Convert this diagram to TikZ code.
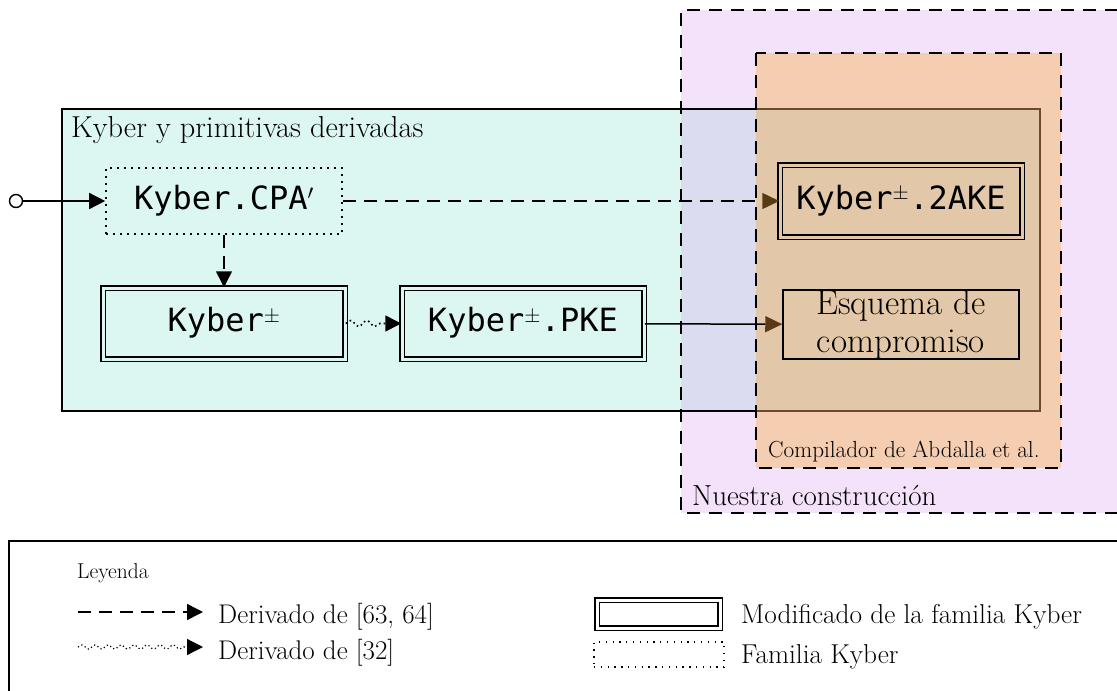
\documentclass[tikz,border=0pt]{standalone}
\usepackage{fontspec}
\newfontfamily\monof{DejaVu Sans Mono}
\usetikzlibrary{arrows.meta,decorations.pathmorphing}
\definecolor{cyanbg}{HTML}{DCF7F2}
\definecolor{purplebg}{HTML}{F4E1FA}
\definecolor{orangebg}{HTML}{F5CDB0}
\definecolor{lavbg}{HTML}{DCDCF0}
\definecolor{tanbg}{HTML}{E2C8A8}
\definecolor{brownline}{HTML}{6B4A2E}
\definecolor{tipbrown}{HTML}{5A3A12}
\begin{document}
\begin{tikzpicture}[x=1pt,y=-1pt,
  monotext/.style={font=\fontsize{32}{36}\selectfont\monof, text height=23pt, text depth=7pt},
  dotbox/.style={draw, line width=1.6pt, dash pattern=on 1.6pt off 5.4pt, inner sep=0pt},
  dblbox/.style={draw, line width=1.5pt, double distance=3pt, inner sep=0pt},
  plainbox/.style={draw, line width=1.5pt, inner sep=0pt},
  regionborder/.style={line width=2pt, dash pattern=on 13pt off 9pt},
  tipblack/.style={-{Triangle[length=16pt,width=16pt]}},
  tipbrownarrow/.style={-{Triangle[length=17pt,width=16pt,color=tipbrown]}},
  dasharrow/.style={line width=1.5pt, dash pattern=on 13pt off 8pt},
  wavyarrow/.style={line width=1.6pt, dash pattern=on 1.6pt off 3pt, decorate, decoration={snake, amplitude=3pt, segment length=16pt, post length=16pt}},
  lbl/.style={anchor=base west, inner sep=0pt},
]
\useasboundingbox (0,0) rectangle (1117,691);
\clip (0,0) rectangle (1117,691);

% region fills
\fill[purplebg] (681,10) rectangle (1140,513);
\fill[orangebg] (756,53) rectangle (1061,468);
\fill[cyanbg] (62,109) rectangle (681,411);
\fill[lavbg] (681,109) rectangle (756,411);
\fill[tanbg] (756,109) rectangle (1040,411);

% cyan region border
\draw[line width=1.5pt] (756,109) -- (62,109) -- (62,411) -- (756,411);
\draw[line width=1.5pt, brownline] (756,109) -- (1040,109) -- (1040,411) -- (756,411);

% dashed region borders
\draw[regionborder] (1140,10) -- (681,10) -- (681,513) -- (1140,513);
\draw[regionborder] (756,53) rectangle (1061,468);

% region labels
\node[lbl, font=\fontsize{30.3}{33}\selectfont] (lkyber) at (71,137) {Kyber y primitivas derivadas};
\node[lbl, font=\fontsize{29}{32}\selectfont] (lnuestra) at (692,505) {Nuestra construcción};
\node[lbl, font=\fontsize{23.2}{26}\selectfont] (lcomp) at (768,457) {Compilador de Abdalla et al.};

% nodes
\node[circle, draw, line width=1.4pt, fill=white, minimum size=13pt, inner sep=0pt] (start) at (16,201) {};
\node[dotbox, monotext, minimum width=236pt, minimum height=66pt] (cpa) at (224,201) {Kyber.CPA$'$};
\node[dblbox, double=cyanbg, monotext, minimum width=242pt, minimum height=71pt] (kpm) at (224,323.5) {Kyber$^{\pm}$};
\node[dblbox, double=cyanbg, monotext, minimum width=242pt, minimum height=71pt] (pke) at (523,323.5) {Kyber$^{\pm}$.PKE};
\node[dblbox, double=tanbg, monotext, minimum width=242pt, minimum height=72pt] (ake) at (901,201) {Kyber$^{\pm}$.2AKE};
\node[plainbox, minimum width=236pt, minimum height=67pt, align=center, font=\fontsize{35}{38}\selectfont] (esq) at (901,324.5) {Esquema de\\compromiso};

% connectors
\draw[line width=1.5pt, tipblack] (start) -- (cpa);
\draw[dasharrow, tipblack] (cpa) -- (kpm);
\draw[wavyarrow, tipblack] (kpm) -- (pke);
\draw[dasharrow, tipbrownarrow] (cpa) -- (ake);
\draw[line width=1.5pt, tipbrownarrow] (pke) -- (esq);

% legend
\draw[line width=1.5pt] (1140,541) -- (9,541) -- (9,700);
\node[lbl, font=\fontsize{21.5}{24}\selectfont] (lley) at (77,578) {Leyenda};
\coordinate (d1a) at (78,612);
\coordinate (d1b) at (203,612);
\draw[dasharrow, tipblack] (d1a) -- (d1b);
\node[lbl, font=\fontsize{27}{30}\selectfont] (ld1) at (218,623) {Derivado de [63, 64]};
\coordinate (d2a) at (78,647);
\coordinate (d2b) at (203,647);
\draw[wavyarrow, line width=1.2pt, dash pattern=on 1.2pt off 2.6pt, decoration={snake, amplitude=2pt, segment length=13pt, post length=15pt}, tipblack] (d2a) -- (d2b);
\node[lbl, font=\fontsize{27}{30}\selectfont] (ld2) at (218,659) {Derivado de [32]};
\node[dblbox, double=white, minimum width=123pt, minimum height=28pt] (lgdbl) at (658.5,614) {};
\node[lbl, font=\fontsize{27.3}{30}\selectfont] (lmod) at (741,623) {Modificado de la familia Kyber};
\node[dotbox, line width=1.3pt, dash pattern=on 1.3pt off 5.5pt, minimum width=130pt, minimum height=25pt] (lgdot) at (659,654.5) {};
\node[lbl, font=\fontsize{27.3}{30}\selectfont] (lfam) at (741,663) {Familia Kyber};
\end{tikzpicture}
\end{document}
